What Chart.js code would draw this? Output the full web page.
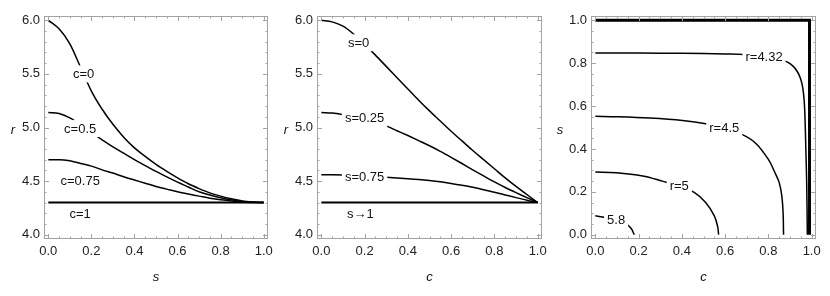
<!DOCTYPE html>
<html><head><meta charset="utf-8">
<script src="https://cdn.jsdelivr.net/npm/chart.js@4/dist/chart.umd.min.js"></script>
<style>
html,body{margin:0;padding:0;background:#fff;}
#wrap{position:relative;width:830px;height:296px;overflow:hidden;background:#fff;}
canvas{position:absolute;top:0;}
</style></head><body>
<div id="wrap">
<canvas id="p1" width="280" height="296" style="left:0px"></canvas>
<canvas id="p2" width="280" height="296" style="left:273px"></canvas>
<canvas id="p3" width="280" height="296" style="left:547px"></canvas>
</div>
<script>
// ---------- Panel 1: r versus s, one curve per c ----------
const sValues = [0,0.05,0.1,0.15,0.2,0.25,0.3,0.35,0.4,0.45,0.5,0.55,0.6,0.65,0.7,0.75,0.8,0.85,0.9,0.95,1];
const r_c0    = [6.00,5.92,5.78,5.56,5.34,5.17,5.03,4.91,4.81,4.73,4.655,4.59,4.53,4.475,4.43,4.39,4.36,4.335,4.315,4.305,4.30];
const r_c05   = [5.14,5.13,5.09,5.025,4.955,4.885,4.82,4.76,4.70,4.645,4.59,4.54,4.49,4.445,4.40,4.37,4.345,4.325,4.31,4.302,4.30];
const r_c075  = [4.70,4.70,4.69,4.665,4.64,4.605,4.575,4.54,4.51,4.48,4.45,4.425,4.40,4.38,4.36,4.34,4.325,4.315,4.305,4.30,4.30];
const r_c1    = [4.30,4.30,4.30,4.30,4.30,4.30,4.30,4.30,4.30,4.30,4.30,4.30,4.30,4.30,4.30,4.30,4.30,4.30,4.30,4.30,4.30];

// ---------- Panel 2: r versus c, one curve per s ----------
const cValues = [0,0.05,0.1,0.15,0.2,0.25,0.3,0.35,0.4,0.45,0.5,0.55,0.6,0.65,0.7,0.75,0.8,0.85,0.9,0.95,1];
const r_s0    = [6.00,5.985,5.945,5.87,5.775,5.675,5.57,5.465,5.36,5.255,5.155,5.06,4.965,4.875,4.785,4.70,4.615,4.53,4.45,4.375,4.30];
const r_s025  = [5.14,5.135,5.12,5.10,5.08,5.05,5.015,4.97,4.925,4.878,4.83,4.778,4.722,4.664,4.605,4.548,4.492,4.44,4.392,4.346,4.30];
const r_s075  = [4.56,4.56,4.558,4.554,4.549,4.543,4.537,4.53,4.523,4.515,4.505,4.493,4.478,4.461,4.442,4.42,4.396,4.371,4.346,4.322,4.30];
const r_s1    = [4.30,4.30,4.30,4.30,4.30,4.30,4.30,4.30,4.30,4.30,4.30,4.30,4.30,4.30,4.30,4.30,4.30,4.30,4.30,4.30,4.30];

// ---------- Panel 3: contours of r in the (c, s) plane ----------
const k430_c = [0, 0.99, 0.99];
const k430_s = [1, 1, 0];
const k432_c = [0,0.2,0.4,0.6,0.68,0.78,0.85,0.888,0.915,0.934,0.948,0.958,0.965,0.969,0.973,0.977,0.98];
const k432_s = [0.848,0.847,0.846,0.843,0.841,0.83,0.818,0.805,0.785,0.76,0.73,0.69,0.63,0.55,0.40,0.24,0];
const k45_c  = [0,0.1,0.25,0.403,0.51,0.6,0.68,0.74,0.8,0.83,0.85,0.862,0.868,0.87];
const k45_s  = [0.552,0.550,0.544,0.533,0.518,0.495,0.467,0.428,0.351,0.29,0.243,0.18,0.10,0];
const k5_c   = [0,0.096,0.219,0.31,0.388,0.457,0.51,0.55,0.565,0.57];
const k5_s   = [0.292,0.289,0.274,0.25,0.227,0.197,0.15,0.088,0.04,0];
const k58_c  = [0,0.034,0.096,0.139,0.165,0.18];
const k58_s  = [0.088,0.083,0.07,0.053,0.03,0];

// ---------- Tick labels ----------
const xTickValues  = [0,0.2,0.4,0.6,0.8,1.0];
const rTickValues  = [4.0,4.5,5.0,5.5,6.0];
const sTickValues  = [0,0.2,0.4,0.6,0.8,1.0];

// ---------- Curve labels (text, anchor in data units) ----------
const labels1 = [
  {t:'c=0',    x:0.164, y:5.50, cut:true},
  {t:'c=0.5',  x:0.148, y:4.99, cut:true},
  {t:'c=0.75', x:0.148, y:4.50, cut:false},
  {t:'c=1',    x:0.148, y:4.19, cut:false}
];
const labels2 = [
  {t:'s=0',    x:0.172, y:5.79, cut:true},
  {t:'s=0.25', x:0.200, y:5.085, cut:true},
  {t:'s=0.75', x:0.200, y:4.54, cut:true},
  {t:'s\u21921', x:0.180, y:4.19, cut:false}
];
const labels3 = [
  {t:'r=4.32', x:0.78,  y:0.827, cut:true},
  {t:'r=4.5',  x:0.596, y:0.498, cut:true},
  {t:'r=5',    x:0.388, y:0.227, cut:true},
  {t:'5.8',    x:0.096, y:0.070, cut:true}
];

const FONT = '"Liberation Sans", Arial, Helvetica, sans-serif';
const FRAME = '#a3a3a3';

function pts(xs, ys){ return xs.map((x,i)=>({x:x, y:ys[i]})); }

function framePlugin(cfg){
  return {
    id:'frame'+cfg.id,
    afterDatasetsDraw(chart){
      const ctx = chart.ctx, a = chart.chartArea;
      const xs = chart.scales.x, ys = chart.scales.y;
      ctx.save();
      ctx.font = '13px ' + FONT;
      ctx.textAlign = 'center';
      ctx.textBaseline = 'middle';
      cfg.labels.forEach(l=>{
        const px = xs.getPixelForValue(l.x), py = ys.getPixelForValue(l.y);
        const w = ctx.measureText(l.t).width;
        if (l.cut){ ctx.fillStyle = '#fff'; ctx.fillRect(px - w/2 - 3, py - 8.5, w + 6, 17); }
        ctx.fillStyle = '#111';
        ctx.fillText(l.t, px, py + 0.5);
      });
      ctx.strokeStyle = FRAME; ctx.lineWidth = 1;
      ctx.strokeRect(Math.round(a.left)+0.5, Math.round(a.top)+0.5, Math.round(a.right-a.left)-1, Math.round(a.bottom-a.top)-1);
      ctx.beginPath();
      const xmaj = cfg.xMajor, ymaj = cfg.yMajor;
      const tickX = (v,len)=>{ const p = Math.round(xs.getPixelForValue(v))+0.5;
        ctx.moveTo(p, a.bottom); ctx.lineTo(p, a.bottom-len);
        ctx.moveTo(p, a.top); ctx.lineTo(p, a.top+len); };
      const tickY = (v,len)=>{ const p = Math.round(ys.getPixelForValue(v))+0.5;
        ctx.moveTo(a.left, p); ctx.lineTo(a.left+len, p);
        ctx.moveTo(a.right, p); ctx.lineTo(a.right-len, p); };
      for (let i=0;i<xmaj.length;i++){
        tickX(xmaj[i], 5);
        if (i<xmaj.length-1){ const st=(xmaj[i+1]-xmaj[i])/cfg.xSub; for(let k=1;k<cfg.xSub;k++) tickX(xmaj[i]+k*st, 2.5); }
      }
      for (let i=0;i<ymaj.length;i++){
        tickY(ymaj[i], 5);
        if (i<ymaj.length-1){ const st=(ymaj[i+1]-ymaj[i])/cfg.ySub; for(let k=1;k<cfg.ySub;k++) tickY(ymaj[i]+k*st, 2.5); }
      }
      ctx.stroke();
      ctx.fillStyle = '#111';
      ctx.font = 'italic 13px ' + FONT;
      ctx.fillText(cfg.yTitle, a.left - 31, (a.top+a.bottom)/2 + 3);
      ctx.fillText(cfg.xTitle, (a.left+a.right)/2, a.bottom + 38);
      ctx.restore();
    }
  };
}

function makeChart(cfg){
  return new Chart(document.getElementById(cfg.canvas), {
    type:'scatter',
    data:{datasets: cfg.datasets},
    options:{
      responsive:false, animation:false, devicePixelRatio:1,
      layout:{padding:{top:16, right:cfg.padRight, left:0, bottom:0}},
      plugins:{legend:{display:false}, tooltip:{enabled:false}},
      elements:{point:{radius:0, hoverRadius:0}},
      scales:{
        x:{type:'linear', min:cfg.xMin, max:cfg.xMax,
           grid:{display:false, drawTicks:false}, border:{display:false},
           afterFit:s=>{s.height = 57;},
           afterBuildTicks:s=>{ s.ticks = cfg.xMajor.map(v=>({value:v})); },
           ticks:{padding:5, color:'#222', font:{family:FONT, size:13}, maxRotation:0, autoSkip:false,
                  callback:v=>Number(v).toFixed(1)}},
        y:{type:'linear', min:cfg.yMin, max:cfg.yMax,
           grid:{display:false, drawTicks:false}, border:{display:false},
           afterFit:s=>{s.width = 44;},
           afterBuildTicks:s=>{ s.ticks = cfg.yMajor.map(v=>({value:v})); },
           ticks:{padding:4, color:'#222', font:{family:FONT, size:13}, autoSkip:false,
                  callback:v=>Number(v).toFixed(1)}}
      }
    },
    plugins:[framePlugin(cfg)]
  });
}

function curve(xs, ys, w, mode){
  const d = {data:pts(xs,ys), showLine:true, borderColor:'#000', borderWidth:w, fill:false,
             pointRadius:0, borderCapStyle:'butt', borderJoinStyle:'miter'};
  if (mode==='mono') { d.cubicInterpolationMode='monotone'; }
  else if (mode==='straight') { d.tension = 0; }
  else { d.tension = 0.35; }
  return d;
}

makeChart({
  id:1, canvas:'p1', padRight:12,
  xMin:-0.02, xMax:1.02, yMin:3.96, yMax:6.04,
  xMajor:xTickValues, yMajor:rTickValues, xSub:4, ySub:5,
  xTitle:'s', yTitle:'r', labels:labels1,
  datasets:[
    curve(sValues, r_c0, 1.5, 'mono'),
    curve(sValues, r_c05, 1.5, 'mono'),
    curve(sValues, r_c075, 1.5, 'mono'),
    curve(sValues, r_c1, 2, 'mono')
  ]
});

makeChart({
  id:2, canvas:'p2', padRight:11,
  xMin:-0.02, xMax:1.02, yMin:3.96, yMax:6.04,
  xMajor:xTickValues, yMajor:rTickValues, xSub:4, ySub:5,
  xTitle:'c', yTitle:'r', labels:labels2,
  datasets:[
    curve(cValues, r_s0, 1.5, 'mono'),
    curve(cValues, r_s025, 1.5, 'mono'),
    curve(cValues, r_s075, 1.5, 'mono'),
    curve(cValues, r_s1, 2, 'mono')
  ]
});

makeChart({
  id:3, canvas:'p3', padRight:11,
  xMin:-0.02, xMax:1.02, yMin:-0.02, yMax:1.02,
  xMajor:xTickValues, yMajor:sTickValues, xSub:4, ySub:4,
  xTitle:'c', yTitle:'s', labels:labels3,
  datasets:[
    curve(k430_c, k430_s, 3, 'straight'),
    curve(k432_c, k432_s, 1.5, 'smooth'),
    curve(k45_c, k45_s, 1.5, 'smooth'),
    curve(k5_c, k5_s, 1.5, 'smooth'),
    curve(k58_c, k58_s, 1.5, 'smooth')
  ]
});
</script>
</body></html>
